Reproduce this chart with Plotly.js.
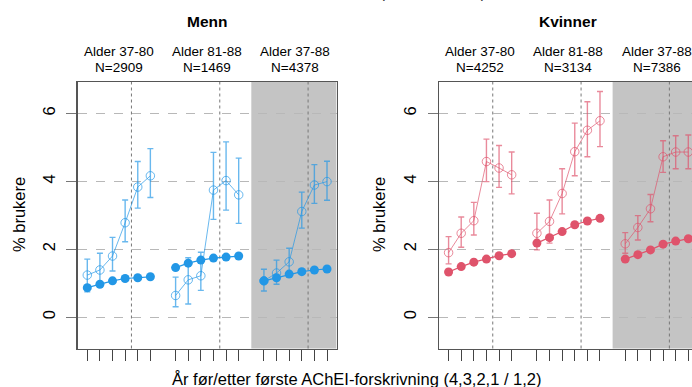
<!DOCTYPE html>
<html>
<head>
<meta charset="utf-8">
<script src="https://cdn.plot.ly/plotly-3.0.1.min.js"></script>
<style>
  html, body { margin: 0; padding: 0; overflow: hidden; background: #fff; }
  #chart { width: 700px; height: 387px; }
</style>
</head>
<body>
<div id="chart"></div>
<script>
// ---------- DATA ----------
const panelTitles = ["Menn", "Kvinner"];
const groupLabels = ["Alder 37-80", "Alder 81-88", "Alder 37-88"];
const mennN = ["N=2909", "N=1469", "N=4378"];
const kvinnerN = ["N=4252", "N=3134", "N=7386"];

// x positions of the years (4,3,2,1 before / 1,2 after) in each age group
const xGroup1 = [1, 2, 3, 4, 5, 6];
const xGroup2 = [8, 9, 10, 11, 12, 13];
const xGroup3 = [15, 16, 17, 18, 19, 20];

// Menn – open circles (with error bars)
const mennOpen1 = [1.24, 1.39, 1.80, 2.78, 3.83, 4.16];
const mennOpen1Hi = [1.71, 1.88, 2.35, 3.45, 4.58, 4.96];
const mennOpen1Lo = [0.75, 0.90, 1.36, 2.22, 3.21, 3.52];
const mennOpen2 = [0.64, 1.10, 1.22, 3.74, 4.02, 3.60];
const mennOpen2Hi = [1.18, 1.75, 1.91, 4.85, 5.16, 4.68];
const mennOpen2Lo = [0.31, 0.39, 0.79, 2.88, 3.15, 2.76];
const mennOpen3 = [1.07, 1.30, 1.63, 3.11, 3.89, 3.99];
const mennOpen3Hi = [1.41, 1.68, 2.03, 3.68, 4.49, 4.59];
const mennOpen3Lo = [0.77, 0.97, 1.27, 2.62, 3.35, 3.44];
// Menn – filled circles
const mennFilled1 = [0.87, 0.97, 1.07, 1.14, 1.16, 1.19];
const mennFilled2 = [1.46, 1.59, 1.68, 1.74, 1.77, 1.80];
const mennFilled3 = [1.07, 1.16, 1.27, 1.34, 1.39, 1.42];

// Kvinner – open circles (with error bars)
const kvinnerOpen1 = [1.90, 2.47, 2.84, 4.58, 4.39, 4.19];
const kvinnerOpen1Hi = [2.37, 2.95, 3.38, 5.24, 5.05, 4.86];
const kvinnerOpen1Lo = [1.57, 2.06, 2.42, 3.99, 3.82, 3.63];
const kvinnerOpen2 = [2.47, 2.82, 3.64, 4.87, 5.50, 5.78];
const kvinnerOpen2Hi = [3.06, 3.45, 4.37, 5.71, 6.34, 6.64];
const kvinnerOpen2Lo = [1.98, 2.18, 3.04, 4.16, 4.72, 5.02];
const kvinnerOpen3 = [2.16, 2.64, 3.19, 4.72, 4.86, 4.86];
const kvinnerOpen3Hi = [2.49, 2.99, 3.61, 5.19, 5.34, 5.36];
const kvinnerOpen3Lo = [1.88, 2.27, 2.81, 4.26, 4.37, 4.37];
// Kvinner – filled circles
const kvinnerFilled1 = [1.33, 1.49, 1.62, 1.71, 1.81, 1.87];
const kvinnerFilled2 = [2.18, 2.34, 2.52, 2.72, 2.83, 2.91];
const kvinnerFilled3 = [1.71, 1.84, 1.98, 2.15, 2.24, 2.31];

const yTicks = [0, 2, 4, 6];
const topTitle = "Alle brukere \u2014 Citalopram/escitalopram";
const yTitle = "% brukere";
const xTitle = "År før/etter første AChEI-forskrivning (4,3,2,1 / 1,2)";

// ---------- STYLE ----------
const FONT = '"Liberation Sans", Arial, Helvetica, sans-serif';
const W = 700, H = 387;
const blue = "#2297E6", blueLight = "rgba(34,151,230,0.68)";
const pink = "#DF536B", pinkLight = "rgba(223,83,107,0.68)";

const xGroups = [xGroup1, xGroup2, xGroup3];
const panels = [
  { xa: "x", ya: "y", col: blue, light: blueLight,
    open: [mennOpen1, mennOpen2, mennOpen3],
    hi: [mennOpen1Hi, mennOpen2Hi, mennOpen3Hi],
    lo: [mennOpen1Lo, mennOpen2Lo, mennOpen3Lo],
    filled: [mennFilled1, mennFilled2, mennFilled3], ns: mennN },
  { xa: "x2", ya: "y2", col: pink, light: pinkLight,
    open: [kvinnerOpen1, kvinnerOpen2, kvinnerOpen3],
    hi: [kvinnerOpen1Hi, kvinnerOpen2Hi, kvinnerOpen3Hi],
    lo: [kvinnerOpen1Lo, kvinnerOpen2Lo, kvinnerOpen3Lo],
    filled: [kvinnerFilled1, kvinnerFilled2, kvinnerFilled3], ns: kvinnerN }
];

const traces = [];
panels.forEach(p => {
  for (let g = 0; g < 3; g++) {
    const v = p.open[g];
    traces.push({
      type: "scatter", mode: "lines+markers", xaxis: p.xa, yaxis: p.ya,
      x: xGroups[g], y: v,
      line: { color: p.light, width: 1 },
      marker: { symbol: "circle-open", size: 8.5, color: p.light, line: { width: 1 } },
      error_y: { type: "data", symmetric: false,
        array: p.hi[g].map((h, i) => h - v[i]),
        arrayminus: p.lo[g].map((l, i) => v[i] - l),
        color: p.light, thickness: 1.4, width: 3 },
      showlegend: false, hoverinfo: "skip"
    });
  }
  for (let g = 0; g < 3; g++) {
    traces.push({
      type: "scatter", mode: "lines+markers", xaxis: p.xa, yaxis: p.ya,
      x: xGroups[g], y: p.filled[g],
      line: { color: p.col, width: 1.2 },
      marker: { symbol: "circle", size: 9, color: p.col },
      showlegend: false, hoverinfo: "skip"
    });
  }
});

const allX = xGroup1.concat(xGroup2, xGroup3);
const xRange = [0.24, 20.76];
const yRange = [-0.92, 6.92];
const yDom = [(H - 348.5) / H, (H - 82) / H];

function xAxis(dom) {
  return { domain: dom, range: xRange, tickvals: allX, showticklabels: false,
    ticks: "outside", ticklen: 11, tickcolor: "#444", tickwidth: 1,
    showgrid: false, zeroline: false, showline: true, mirror: true,
    linecolor: "#555", linewidth: 1.5, fixedrange: true };
}
function yAxis(anchor) {
  return { domain: yDom, range: yRange, anchor: anchor, tickvals: yTicks,
    tickangle: -90, tickfont: { family: FONT, size: 16.5, color: "#000" },
    ticks: "outside", ticklen: 10, tickcolor: "#777", tickwidth: 1,
    ticklabelstandoff: 5,
    showgrid: true, gridcolor: "#b8b8b8", gridwidth: 1, griddash: "dash",
    zeroline: false, showline: true, mirror: true,
    linecolor: "#555", linewidth: 1.5, fixedrange: true };
}

const shapes = [];
const annotations = [];
const dividers = [4.5, 11.5, 18.5];
const groupCenters = [3.5, 10.5, 17.5];

panels.forEach((p, k) => {
  shapes.push({ type: "rect", xref: p.xa, yref: p.ya + " domain",
    x0: 14, x1: xRange[1], y0: 0, y1: 1, fillcolor: "#c4c4c4",
    line: { width: 0 }, layer: "below" });
  dividers.forEach(d => shapes.push({ type: "line", xref: p.xa, yref: p.ya + " domain",
    x0: d, x1: d, y0: 0, y1: 1, line: { color: "#777", width: 1, dash: "dot" }, layer: "below" }));
  groupCenters.forEach((c, g) => {
    annotations.push({ xref: p.xa, yref: "paper", x: c, y: (H - 51.7) / H,
      text: groupLabels[g], showarrow: false, xanchor: "center", yanchor: "middle",
      font: { family: FONT, size: 13.5, color: "#000" } });
    annotations.push({ xref: p.xa, yref: "paper", x: c, y: (H - 67.7) / H,
      text: p.ns[g], showarrow: false, xanchor: "center", yanchor: "middle",
      font: { family: FONT, size: 13.5, color: "#000" } });
  });
  annotations.push({ xref: p.xa + " domain", yref: "paper", x: 0.5, y: (H - 21.7) / H,
    text: "<b>" + panelTitles[k] + "</b>", showarrow: false, xanchor: "center", yanchor: "middle",
    font: { family: FONT, size: 15.5, color: "#000" } });
});

annotations.push({ xref: "paper", yref: "paper", x: 19 / W, y: (H - 215) / H,
  text: yTitle, textangle: -90, showarrow: false, xanchor: "center", yanchor: "middle",
  font: { family: FONT, size: 16.5, color: "#000" } });
annotations.push({ xref: "paper", yref: "paper", x: 379 / W, y: (H - 215) / H,
  text: yTitle, textangle: -90, showarrow: false, xanchor: "center", yanchor: "middle",
  font: { family: FONT, size: 16.5, color: "#000" } });
annotations.push({ xref: "paper", yref: "paper", x: 356.7 / W, y: (H - 379) / H,
  text: xTitle, showarrow: false, xanchor: "center", yanchor: "middle",
  font: { family: FONT, size: 16.5, color: "#000" } });
annotations.push({ xref: "paper", yref: "paper", x: 372 / W, y: (H + 7.5) / H,
  text: topTitle, showarrow: false, xanchor: "center", yanchor: "middle",
  font: { family: FONT, size: 16.5, color: "#444" } });

const layout = {
  width: W, height: H,
  margin: { l: 0, r: 0, t: 0, b: 0 },
  paper_bgcolor: "#fff", plot_bgcolor: "#fff",
  font: { family: FONT, color: "#000" },
  xaxis: xAxis([77.7 / W, 336.6 / W]),
  yaxis: yAxis("x"),
  xaxis2: xAxis([439 / W, 697.9 / W]),
  yaxis2: yAxis("x2"),
  shapes: shapes,
  annotations: annotations,
  showlegend: false
};

Plotly.newPlot("chart", traces, layout, { displayModeBar: false, staticPlot: true });
</script>
</body>
</html>
